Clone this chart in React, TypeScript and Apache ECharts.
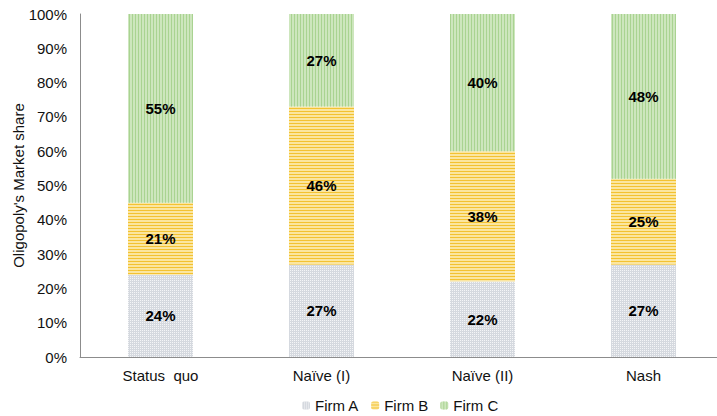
import React, { useEffect, useRef } from "react";
import * as echarts from "echarts";

const categories = ["Status  quo", "Naïve (I)", "Naïve (II)", "Nash"];
const firmA = [24, 27, 22, 27];
const firmB = [21, 46, 38, 25];
const firmC = [55, 27, 40, 48];
const yTicks = [0, 10, 20, 30, 40, 50, 60, 70, 80, 90, 100];

export default function App() {
  const ref = useRef<HTMLDivElement>(null);
  useEffect(() => {
    if (!ref.current) return;
    document.body.style.margin = "0";
    const chart = echarts.init(ref.current, undefined, { renderer: "svg" });
    const font = "Liberation Sans, Arial, sans-serif";
    const label = {
      show: true,
      position: "inside",
      formatter: (p: any) => p.value + "%",
      color: "#000",
      fontWeight: "bold",
      fontSize: 15,
      fontFamily: font,
    };
    chart.setOption({
      animation: false,
      textStyle: { fontFamily: font },
      grid: { left: 80, top: 14, width: 644, bottom: 59, outerBoundsMode: "none", containLabel: false },
      legend: {
        top: 398,
        left: 302,
        padding: 0,
        itemWidth: 8,
        itemHeight: 8,
        itemGap: 12,
        textStyle: { fontSize: 15, color: "#111", fontFamily: font },
        data: ["Firm A", "Firm B", "Firm C"],
      },
      xAxis: {
        type: "category",
        data: categories,
        axisLine: { lineStyle: { color: "#8c8c8c" } },
        axisTick: { show: false },
        axisLabel: { fontSize: 15, color: "#111", margin: 11, fontFamily: font },
      },
      yAxis: {
        type: "value",
        min: 0,
        max: 100,
        interval: 10,
        name: "Oligopoly's Market share",
        nameLocation: "middle",
        nameGap: 54,
        nameMoveOverlap: false,
        nameTextStyle: { fontSize: 15, color: "#111", fontFamily: font },
        axisLine: { show: true, lineStyle: { color: "#8c8c8c" } },
        axisTick: { show: false },
        splitLine: { show: false },
        axisLabel: {
          fontSize: 15,
          color: "#111",
          margin: 13,
          fontFamily: font,
          formatter: (v: number) => (yTicks.includes(v) ? v + "%" : ""),
        },
      },
      series: [
        {
          name: "Firm A",
          type: "bar",
          stack: "s",
          barWidth: 65,
          data: firmA,
          label,
          itemStyle: {
            color: "#d5d9df",
            decal: {
              symbol: "rect",
              color: "rgba(255,255,255,0.75)",
              symbolSize: 1,
              dashArrayX: [1, 1],
              dashArrayY: [1, 1],
              rotation: 0,
            },
          },
        },
        {
          name: "Firm B",
          type: "bar",
          stack: "s",
          data: firmB,
          label,
          itemStyle: {
            color: "#fbe6a0",
            decal: {
              symbol: "rect",
              color: "#f3c232",
              symbolSize: 1,
              dashArrayX: [1, 0],
              dashArrayY: [1, 2],
              rotation: 0,
            },
          },
        },
        {
          name: "Firm C",
          type: "bar",
          stack: "s",
          data: firmC,
          label,
          itemStyle: {
            color: "#cde6bd",
            decal: {
              symbol: "rect",
              color: "#a9d391",
              symbolSize: 1,
              dashArrayX: [1, 2],
              dashArrayY: [1, 0],
              rotation: 0,
            },
          },
        },
      ],
    });
    return () => chart.dispose();
  }, []);
  return (
    <div style={{ width: 717, height: 416, overflow: "hidden" }}>
      <div ref={ref} style={{ width: 730, height: 416 }} />
    </div>
  );
}
